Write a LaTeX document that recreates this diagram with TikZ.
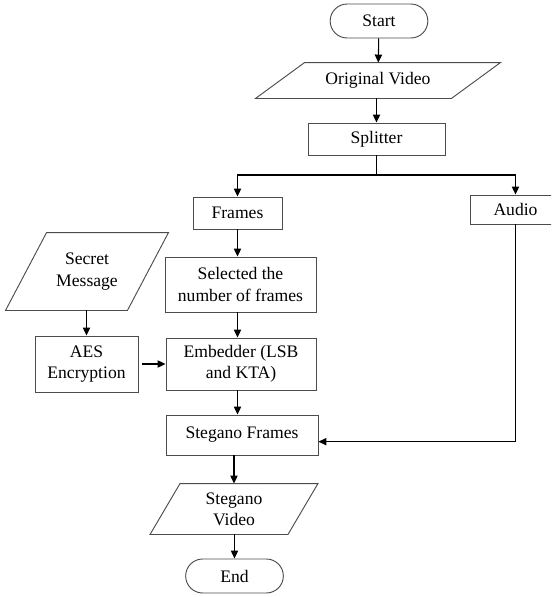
\documentclass[tikz,border=0pt]{standalone}
\usepackage{fontspec}
\setmainfont{Liberation Serif}
\usepackage{tikz}
\usetikzlibrary{arrows.meta}
\usetikzlibrary{shapes.misc}

% slanted data box drawn round a named node: #1 node, #2 half of the slant
\newcommand{\iobox}[2]{\draw[draw=black!70, line width=0.7pt]
	([xshift=-#2]#1.south west) -- ([xshift=-#2]#1.south east) --
	([xshift=#2]#1.north east) -- ([xshift=#2]#1.north west) -- cycle;}

\begin{document}
\begin{tikzpicture}[x=0.75pt,y=-0.75pt]
	\useasboundingbox (0,0) rectangle (551,597);
	\clip (0,0) rectangle (551,597);
	\begin{scope}[every node/.style = {draw=black!70, line width=0.7pt, align=center,
			inner sep=2pt, font=\fontsize{13.2}{16}\selectfont},
		terminal/.style = {rounded rectangle},
		data/.style = {draw=none}]
		\node[terminal, minimum width=77.25pt, minimum height=25.5pt] (start) at (379,21) {Start};
		\node[data, minimum width=146.25pt, minimum height=26.25pt] (video) at (378,80.5) {Original Video};
		\node[minimum width=102.75pt, minimum height=24pt] (split) at (376.5,139) {Splitter};
		\node[minimum width=66.75pt, minimum height=24pt] (frames) at (237.5,213) {Frames};
		\node[minimum width=68.25pt, minimum height=21.75pt] (audio) at (515.5,209.5) {Audio};
		\node[data, minimum width=90.75pt, minimum height=57.75pt] (secret) at (87,271.5) {Secret\\Message};
		\node[minimum width=113.25pt, minimum height=41.25pt] (select) at (240.5,284.5) {Selected the\\number of frames};
		\node[minimum width=77.25pt, minimum height=42pt] (aes) at (86.5,364) {AES\\Encryption};
		\node[minimum width=112.5pt, minimum height=39pt] (embed) at (241,364) {Embedder (LSB\\and KTA)};
		\node[minimum width=114pt, minimum height=30pt] (sframes) at (242,435) {Stegano Frames};
		\node[data, minimum width=102.75pt, minimum height=37.5pt] (svideo) at (234,509) {Stegano\\Video};
		\node[terminal, minimum width=77.25pt, minimum height=25.5pt] (end) at (234.5,576) {End};
	\end{scope}
	\iobox{video}{18.4pt}
	\iobox{secret}{15.4pt}
	\iobox{svideo}{11.25pt}
	\coordinate (fork) at (376.5,175);
	\begin{scope}[>={Triangle[length=6pt,width=5.5pt]},
			every edge/.style={draw=black, line width=0.8pt}]
		\path [->] (start) edge (video);
		\path [->] (video.south -| split.north) edge (split);
		\draw [line width=0.8pt] (split.south) -- (fork);
		\draw [->, line width=0.8pt] (fork) -| (frames.north);
		\draw [->, line width=0.8pt] (fork) -| (audio.north);
		\path [->] (frames.south) edge (frames.south |- select.north);
		\path [->] (select.south -| frames.south) edge (embed.north -| frames.south);
		\path [->] (secret.south -| aes.north) edge (aes.north);
		\path [->, shorten <=3pt] (aes) edge (embed);
		\path [->] (embed.south -| frames.south) edge (sframes.north -| frames.south);
		\draw [->, line width=0.8pt] (audio.south) |- ([yshift=-5pt]sframes.east);
		\path [->] (sframes.south -| svideo.north) edge (svideo.north);
		\path [->] (svideo.south -| end.north) edge (end.north);
	\end{scope}
\end{tikzpicture}
\end{document}
